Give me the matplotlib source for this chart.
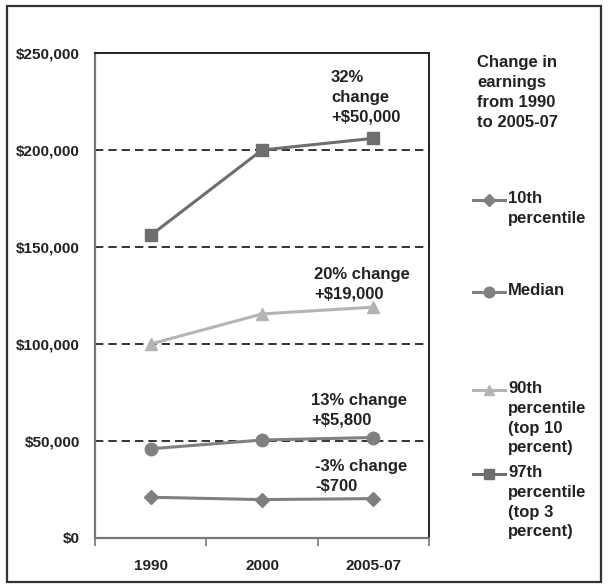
import numpy as np
import matplotlib
matplotlib.use("Agg")
import matplotlib.pyplot as plt
from matplotlib.lines import Line2D
from matplotlib.patches import Rectangle

plt.rcParams['font.family'] = ['Liberation Sans', 'DejaVu Sans']

periods = ["1990", "2000", "2005-07"]
p10 = [21000, 19800, 20300]
median = [46000, 50500, 51800]
p90 = [100000, 115500, 119000]
p97 = [156000, 200000, 206000]

series = [
    ("10th\npercentile", p10, "D", 7, "#7f7f7f"),
    ("Median", median, "o", 9, "#808080"),
    ("90th\npercentile\n(top 10\npercent)", p90, "^", 9, "#b4b4b4"),
    ("97th\npercentile\n(top 3\npercent)", p97, "s", 9, "#6e6e6e"),
]

notes = [
    ("32%\nchange\n+$50,000", 1.62, 241000),
    ("20% change\n+$19,000", 1.47, 139500),
    ("13% change\n+$5,800", 1.44, 75000),
    ("-3% change\n-$700", 1.48, 40500),
]

W, H = 608, 588
fig = plt.figure(figsize=(W / 100, H / 100), dpi=100)
fig.patch.set_facecolor("white")
fig.add_artist(Rectangle((7 / W, 6 / H), 594 / W, 576 / H, transform=fig.transFigure,
                         fill=False, edgecolor="#333333", linewidth=1.6))

ax = fig.add_axes([95 / W, 50 / H, 334 / W, 485 / H])
x = np.arange(len(periods))

for yv in [50000, 100000, 150000, 200000]:
    ax.axhline(yv, color="#111111", linestyle=(0, (5, 3)), linewidth=1.2, zorder=1)

for label, vals, mk, ms, col in series:
    ax.plot(x, vals, color=col, marker=mk, markersize=ms, linewidth=2.2, zorder=3)

for txt, tx, ty in notes:
    ax.text(tx, ty, txt, fontsize=12, fontweight="bold", color="#222222",
            va="top", ha="left", linespacing=1.38)

ax.set_xlim(-0.5, 2.5)
ax.set_ylim(0, 250000)
ax.set_yticks(np.arange(0, 250001, 50000))
ax.set_yticklabels(["${:,}".format(v) for v in range(0, 250001, 50000)])
ax.set_xticks(x)
ax.set_xticklabels(periods)
ax.set_xticks([-0.5, 0.5, 1.5, 2.5], minor=True)
ax.tick_params(axis="x", which="major", length=0, pad=15)
ax.tick_params(axis="x", which="minor", length=6, width=1.2, color="#777777")
ax.tick_params(axis="y", length=0, pad=11)
for lab in ax.get_xticklabels() + ax.get_yticklabels():
    lab.set_fontsize(11)
    lab.set_fontweight("bold")
    lab.set_color("#222222")

for side in ["top", "right"]:
    ax.spines[side].set_color("#222222")
    ax.spines[side].set_linewidth(1.4)
for side in ["left", "bottom"]:
    ax.spines[side].set_color("#777777")
    ax.spines[side].set_linewidth(1.6)

# legend drawn by hand so each handle sits on the first line of its label
fig.text(477 / W, 1 - 55 / H, "Change in\nearnings\nfrom 1990\nto 2005-07",
         fontsize=12, fontweight="bold", color="#222222", va="top", ha="left",
         linespacing=1.42)
leg_y = [200, 292, 390, 474]
for (label, vals, mk, ms, col), ly in zip(series, leg_y):
    yf = 1 - ly / H
    fig.add_artist(Line2D([473 / W, 505 / W], [yf, yf], transform=fig.transFigure,
                          color=col, linewidth=2.2))
    fig.add_artist(Line2D([489 / W], [yf], transform=fig.transFigure,
                          color=col, marker=mk, markersize=ms * 0.85, linestyle="none"))
    fig.text(508 / W, yf + 9 / H, label, fontsize=12, fontweight="bold",
             color="#222222", va="top", ha="left", linespacing=1.4)

fig.savefig("out.png", dpi=100)
